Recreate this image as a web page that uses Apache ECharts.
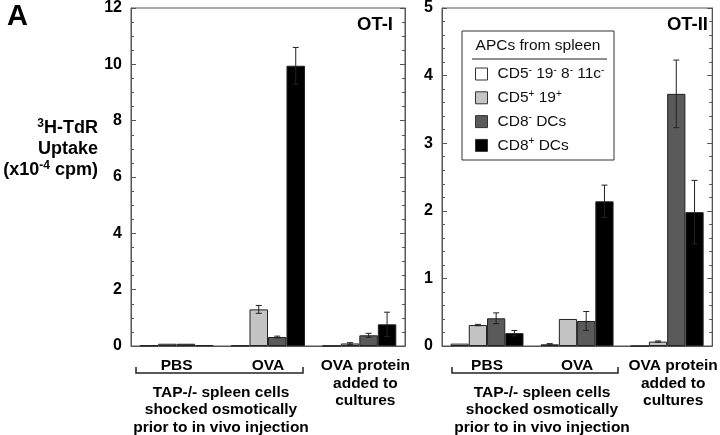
<!DOCTYPE html>
<html>
<head>
<meta charset="utf-8">
<script src="https://cdn.jsdelivr.net/npm/echarts@6/dist/echarts.min.js"></script>
<style>
html,body{margin:0;padding:0;background:#fff;}
#chart{width:720px;height:435px;}
</style>
</head>
<body>
<div id="chart"></div>
<script>
// ---- data ----
const categories = ['PBS', 'OVA', 'OVA protein\nadded to\ncultures'];
const seriesNames = ['CD5- 19- 8- 11c-', 'CD5+ 19+', 'CD8- DCs', 'CD8+ DCs'];
const seriesColors = ['#ffffff', '#c4c4c4', '#5a5a5a', '#000000'];

// OT-I panel (x10^-4 cpm)
const otI_cd5neg = [0.02, 0.02, 0.01];
const otI_cd5pos = [0.08, 1.30, 0.09];
const otI_cd8neg = [0.08, 0.32, 0.38];
const otI_cd8pos = [0.03, 9.95, 0.77];
const otI_err_cd5neg = [0, 0, 0];
const otI_err_cd5pos = [0, 0.14, 0.03];
const otI_err_cd8neg = [0, 0.03, 0.07];
const otI_err_cd8pos = [0, 0.65, 0.43];

// OT-II panel
const otII_cd5neg = [0.035, 0.025, 0];
const otII_cd5pos = [0.31, 0.40, 0.065];
const otII_cd8neg = [0.41, 0.37, 3.73];
const otII_cd8pos = [0.19, 2.14, 1.98];
const otII_err_cd5neg = [0, 0.01, 0];
const otII_err_cd5pos = [0.01, 0, 0.01];
const otII_err_cd8neg = [0.08, 0.14, 0.50];
const otII_err_cd8pos = [0.04, 0.24, 0.47];

const otI_ticks = {min: 0, max: 12, interval: 2};
const otII_ticks = {min: 0, max: 5, interval: 1};

// ---- chart ----
const FONT = '"Liberation Sans", Arial, Helvetica, sans-serif';
const CAT_GAP = 0.19;
const chart = echarts.init(document.getElementById('chart'), null, {renderer: 'canvas'});

const panelI = [otI_cd5neg, otI_cd5pos, otI_cd8neg, otI_cd8pos];
const panelIerr = [otI_err_cd5neg, otI_err_cd5pos, otI_err_cd8neg, otI_err_cd8pos];
const panelII = [otII_cd5neg, otII_cd5pos, otII_cd8neg, otII_cd8pos];
const panelIIerr = [otII_err_cd5neg, otII_err_cd5pos, otII_err_cd8neg, otII_err_cd8pos];

function barSeries(values, gridIdx) {
  return values.map((vals, k) => ({
    type: 'bar',
    name: seriesNames[k],
    xAxisIndex: gridIdx,
    yAxisIndex: gridIdx * 2,
    data: vals,
    barGap: '0%',
    barCategoryGap: (CAT_GAP * 100) + '%',
    itemStyle: {color: seriesColors[k], borderColor: '#222', borderWidth: 1},
    emphasis: {disabled: true},
    animation: false
  }));
}

function errSeries(values, errs, gridIdx) {
  const data = [];
  values.forEach((vals, k) => {
    vals.forEach((v, i) => {
      const e = errs[k][i];
      if (e > 0) data.push([i, v - e, v + e, k]);
    });
  });
  return {
    type: 'custom',
    xAxisIndex: gridIdx,
    yAxisIndex: gridIdx * 2,
    z: 10,
    animation: false,
    silent: true,
    encode: {x: 0, y: [1, 2]},
    data: data,
    renderItem: function (params, api) {
      const cat = api.value(0), lo = api.value(1), hi = api.value(2), k = api.value(3);
      const band = api.size([1, 0])[0];
      const bw = band * (1 - CAT_GAP) / 4;
      const pLo = api.coord([cat, lo]);
      const pHi = api.coord([cat, hi]);
      const x = pLo[0] + (k - 1.5) * bw;
      const cap = 3;
      const st = {stroke: '#222', lineWidth: 1};
      return {
        type: 'group',
        children: [
          {type: 'line', shape: {x1: x, y1: pLo[1], x2: x, y2: pHi[1]}, style: st},
          {type: 'line', shape: {x1: x - cap, y1: pLo[1], x2: x + cap, y2: pLo[1]}, style: st},
          {type: 'line', shape: {x1: x - cap, y1: pHi[1], x2: x + cap, y2: pHi[1]}, style: st}
        ]
      };
    }
  };
}

function xAxisFor(gridIdx) {
  return {
    type: 'category',
    gridIndex: gridIdx,
    data: categories.map((c, i) => i === 2 ? {value: c, textStyle: {padding: [0, 0, 0, 12]}} : c),
    axisLine: {show: true, lineStyle: {color: '#555', width: 1}},
    axisTick: {show: false},
    axisLabel: {
      interval: 0, margin: 11, color: '#000', fontFamily: FONT, fontWeight: 'bold',
      fontSize: 15.5, lineHeight: 17.5
    },
    splitLine: {show: false}
  };
}

function yAxesFor(gridIdx, t, minorSplit) {
  const common = {
    type: 'value',
    gridIndex: gridIdx,
    min: t.min, max: t.max, interval: t.interval,
    axisLine: {show: true, lineStyle: {color: '#555', width: 1}},
    axisTick: {show: true, inside: true, length: 5, lineStyle: {color: '#555'}},
    minorTick: {show: true, splitNumber: minorSplit, length: 3, lineStyle: {color: '#555'}},
    splitLine: {show: false},
    minorSplitLine: {show: false}
  };
  return [
    Object.assign({}, common, {
      position: 'left',
      axisLabel: {show: true, margin: 9, color: '#000', fontFamily: FONT, fontWeight: 'bold', fontSize: 16}
    }),
    Object.assign({}, common, {
      position: 'right',
      axisLabel: {show: false}
    })
  ];
}

const legendRich = {
  b: {fontFamily: FONT, fontSize: 15.5, color: '#111', lineHeight: 18},
  s: {fontFamily: FONT, fontSize: 10, color: '#111', verticalAlign: 'top', lineHeight: 18}
};
const legendText = {
  'CD5- 19- 8- 11c-': '{b|CD5}{s|-}{b| 19}{s|-}{b| 8}{s|-}{b| 11c}{s|-}',
  'CD5+ 19+': '{b|CD5}{s|+}{b| 19}{s|+}',
  'CD8- DCs': '{b|CD8}{s|-}{b| DCs}',
  'CD8+ DCs': '{b|CD8}{s|+}{b| DCs}'
};

const option = {
  backgroundColor: '#fff',
  animation: false,
  textStyle: {fontFamily: FONT},
  grid: [
    {left: 131, top: 5, width: 274, bottom: 89, show: true, borderColor: '#555', borderWidth: 1, containLabel: false},
    {left: 442, top: 5, width: 275, bottom: 89, show: true, borderColor: '#555', borderWidth: 1, containLabel: false}
  ],
  xAxis: [xAxisFor(0), xAxisFor(1)],
  yAxis: [].concat(yAxesFor(0, otI_ticks, 4), yAxesFor(1, otII_ticks, 5)),
  legend: {
    data: seriesNames,
    orient: 'vertical',
    left: 475, top: 65,
    padding: 0,
    itemWidth: 12, itemHeight: 12, itemGap: 6.8,
    icon: 'rect',
    selectedMode: false,
    itemStyle: {borderColor: '#333', borderWidth: 1},
    textStyle: {rich: legendRich, padding: [0, 0, 0, 5]},
    formatter: function (name) { return legendText[name]; },
    z: 20
  },
  graphic: [
    {type: 'rect', z: 5, shape: {x: 462, y: 31, width: 152, height: 129}, style: {fill: '#fff', stroke: '#333', lineWidth: 1}},
    {type: 'text', z: 6, x: 538, y: 46, style: {text: 'APCs from spleen', fontFamily: FONT, fontSize: 15.5, fill: '#111', align: 'center', verticalAlign: 'middle'}},
    {type: 'line', z: 6, shape: {x1: 472, y1: 59, x2: 607, y2: 59}, style: {stroke: '#222', lineWidth: 1}},
    {type: 'text', z: 6, x: 7, y: 17, style: {text: 'A', fontFamily: FONT, fontSize: 29, fontWeight: 'bold', fill: '#000', align: 'left', verticalAlign: 'middle'}},
    {type: 'text', z: 6, x: 393, y: 25, style: {text: 'OT-I', fontFamily: FONT, fontSize: 18.5, fontWeight: 'bold', fill: '#000', align: 'right', verticalAlign: 'middle'}},
    {type: 'text', z: 6, x: 708, y: 25, style: {text: 'OT-II', fontFamily: FONT, fontSize: 18.5, fontWeight: 'bold', fill: '#000', align: 'right', verticalAlign: 'middle'}},
    {type: 'text', z: 6, x: 98, y: 149, style: {
      text: '{s|3}{b|H-TdR}\n{b|Uptake}\n{b|(x10}{s|-4}{b| cpm)}',
      align: 'right', verticalAlign: 'middle',
      rich: {
        b: {fontFamily: FONT, fontSize: 18, fontWeight: 'bold', fill: '#000', color: '#000', lineHeight: 21, align: 'right'},
        s: {fontFamily: FONT, fontSize: 12, fontWeight: 'bold', fill: '#000', color: '#000', lineHeight: 21, verticalAlign: 'top', align: 'right'}
      }
    }},
    // brackets
    {type: 'polyline', z: 6, shape: {points: [[136, 367], [136, 373], [303, 373], [303, 367]]}, style: {stroke: '#222', lineWidth: 1.5, fill: null}},
    {type: 'polyline', z: 6, shape: {points: [[452, 367], [452, 373], [618, 373], [618, 367]]}, style: {stroke: '#222', lineWidth: 1.5, fill: null}},
    {type: 'text', z: 6, x: 221, y: 410, style: {text: 'TAP-/- spleen cells\nshocked osmotically\nprior to in vivo injection', fontFamily: FONT, fontSize: 15.5, fontWeight: 'bold', fill: '#000', align: 'center', verticalAlign: 'middle', lineHeight: 17.5}},
    {type: 'text', z: 6, x: 542, y: 410, style: {text: 'TAP-/- spleen cells\nshocked osmotically\nprior to in vivo injection', fontFamily: FONT, fontSize: 15.5, fontWeight: 'bold', fill: '#000', align: 'center', verticalAlign: 'middle', lineHeight: 17.5}}
  ],
  series: [].concat(
    barSeries(panelI, 0),
    barSeries(panelII, 1),
    [errSeries(panelI, panelIerr, 0), errSeries(panelII, panelIIerr, 1)]
  )
};
chart.setOption(option);
</script>
</body>
</html>
